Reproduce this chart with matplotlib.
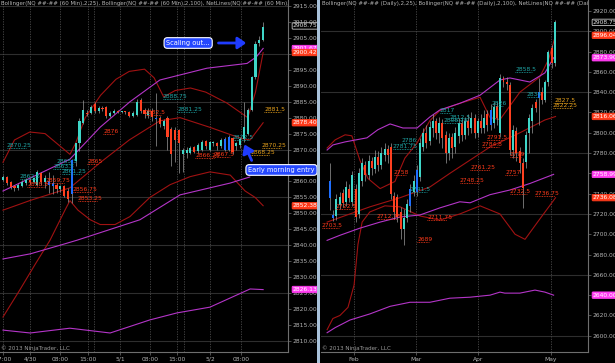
import numpy as np
import matplotlib
matplotlib.use("Agg")
import matplotlib.pyplot as plt
from matplotlib.patches import Rectangle

# ==============================================================================
# NQ 60 min / Daily  -  two NinjaTrader style candle panels
# ==============================================================================

# ---- 60 min panel (bar 0 = 17:00 the day before 4/30) ----
h_open = [2860.3, 2861.3, 2859.7, 2858.5, 2857.8, 2858.7, 2859.6, 2860.5, 2859.8, 2859.0,
          2862.5, 2859.8, 2860.0, 2859.5, 2858.8, 2857.5, 2858.5, 2857.0, 2856.0, 2866.5,
          2872.0, 2878.3, 2881.5, 2881.5, 2884.3, 2882.0, 2883.0, 2883.3, 2880.5, 2881.5,
          2882.0, 2881.8, 2881.9, 2881.7, 2880.6, 2880.8, 2885.5, 2882.5, 2880.8, 2882.2,
          2880.0, 2880.0, 2877.5, 2880.0, 2876.5, 2876.0, 2876.0, 2868.5, 2868.8, 2869.0,
          2870.8, 2869.5, 2870.0, 2872.7, 2870.0, 2872.0, 2872.0, 2871.0, 2870.0, 2869.9,
          2873.5, 2871.0, 2871.5, 2873.3, 2875.0, 2882.4, 2892.7, 2903.5, 2904.3]
h_high = [2862.0, 2861.8, 2860.0, 2859.0, 2859.5, 2860.5, 2861.0, 2861.0, 2861.5, 2863.5,
          2863.0, 2862.0, 2863.0, 2862.0, 2859.5, 2859.0, 2859.0, 2858.0, 2867.0, 2870.0,
          2880.0, 2885.5, 2882.5, 2884.0, 2885.0, 2883.8, 2883.5, 2883.8, 2882.0, 2882.7,
          2882.3, 2882.2, 2882.2, 2882.0, 2882.0, 2886.0, 2886.2, 2883.0, 2883.0, 2883.0,
          2887.8, 2880.5, 2879.5, 2880.5, 2877.0, 2877.0, 2876.5, 2870.5, 2870.8, 2871.0,
          2871.2, 2872.0, 2873.0, 2873.0, 2872.8, 2872.8, 2872.5, 2873.5, 2874.0, 2874.5,
          2874.0, 2872.5, 2873.8, 2885.0, 2883.0, 2893.0, 2904.0, 2905.5, 2910.0]
h_low = [2860.0, 2859.0, 2857.5, 2857.0, 2857.3, 2858.2, 2859.0, 2859.3, 2859.5, 2858.5,
         2859.0, 2858.0, 2856.5, 2856.0, 2856.5, 2856.8, 2855.0, 2853.5, 2853.2, 2865.0,
         2869.5, 2878.0, 2880.5, 2881.0, 2881.5, 2881.6, 2882.0, 2880.0, 2880.2, 2881.0,
         2881.5, 2881.4, 2881.3, 2880.2, 2880.3, 2880.5, 2881.5, 2880.0, 2880.0, 2879.0,
         2871.0, 2877.0, 2876.5, 2870.0, 2865.0, 2866.0, 2862.5, 2863.0, 2867.5, 2868.5,
         2868.8, 2869.0, 2869.5, 2870.3, 2869.5, 2871.0, 2870.0, 2870.5, 2869.5, 2869.5,
         2868.5, 2870.0, 2870.5, 2872.5, 2874.5, 2882.0, 2892.0, 2902.5, 2904.0]
h_close = [2861.5, 2859.5, 2858.2, 2857.8, 2858.8, 2859.8, 2860.5, 2859.8, 2861.0, 2863.0,
           2859.8, 2861.0, 2859.0, 2858.5, 2857.5, 2858.5, 2855.5, 2854.5, 2866.7, 2872.0,
           2879.0, 2882.4, 2881.0, 2883.3, 2882.0, 2883.0, 2882.8, 2880.5, 2881.5, 2882.0,
           2881.8, 2881.9, 2881.7, 2880.6, 2881.5, 2885.0, 2882.2, 2881.0, 2882.2, 2880.2,
           2879.5, 2878.0, 2879.0, 2874.0, 2868.5, 2873.0, 2872.0, 2869.9, 2870.0, 2870.5,
           2869.2, 2871.4, 2872.5, 2871.0, 2872.3, 2872.2, 2871.0, 2873.0, 2873.3, 2874.0,
           2869.3, 2872.0, 2873.3, 2877.0, 2882.4, 2892.7, 2903.0, 2904.3, 2908.5]
h_blue = [12, 13, 18, 40, 58, 59]

h_tick_pos = [0, 7.1, 14.9, 22.2, 30.6, 38.4, 45.5, 54.1, 62.2]
h_tick_lab = ["17:00", "4/30", "08:00", "15:00", "5/1", "08:00", "15:00", "5/2", "08:00"]
h_break_pos = [23.8, 47.3]

# bollinger (25) - dark red
h_bb25_up_x = [0, 3, 7, 11, 15, 17.5, 19, 21.5, 25.5, 29.5, 33, 37, 39.5, 42, 45, 49, 53, 58.5, 64, 66, 68]
h_bb25_up_y = [2866, 2873, 2875.5, 2875, 2871, 2868.5, 2872, 2880, 2887, 2892, 2894.5, 2895.2, 2892.5,
               2886.5, 2888.5, 2889.3, 2888, 2884.6, 2880, 2888, 2900.4]
h_bb25_mid_x = [0, 7, 17.5, 25.5, 33, 41, 46.3, 54, 62, 64.6, 68]
h_bb25_mid_y = [2851, 2854, 2858, 2866, 2873, 2879, 2880, 2877, 2873.6, 2873, 2878.4]
h_bb25_lo_x = [0, 4.4, 8.4, 12.3, 16.2, 17.5, 19.6, 22.8, 25.4, 29.3, 33.2, 38.4, 43.7, 48.9, 54.1, 59.4, 63.3, 65.9, 68]
h_bb25_lo_y = [2817.5, 2826, 2834, 2841.6, 2851, 2854, 2851, 2848, 2846.5, 2846.5, 2849, 2855, 2859, 2861.5,
               2863, 2862, 2857, 2855, 2852.4]
# bollinger (100) - magenta
h_bb100_up_x = [0, 17.5, 25.4, 33.2, 41, 53.3, 63.8, 66.2, 68]
h_bb100_up_y = [2857, 2867, 2877, 2885, 2891.8, 2895.5, 2897, 2899, 2901.7]
h_bb100_mid_x = [0, 7.1, 14.9, 19.4, 35.8, 46.3, 59.4, 64.5]
h_bb100_mid_y = [2835.7, 2837.3, 2840, 2841.6, 2848, 2855.8, 2859.5, 2861.4]
h_bb100_lo_x = [0, 7.1, 17.5, 28, 38.4, 45.5, 54.1, 64.6, 68]
h_bb100_lo_y = [2813.4, 2812.5, 2814, 2812.5, 2816.6, 2818.8, 2820.6, 2826.3, 2826.1]

# net line labels: (bar, price, text, kind)
h_levels = [(1.0, 2870.5, "2870.25", "t"), (26.2, 2874.9, "2876", "r"), (22.0, 2865.5, "2865", "r"),
            (14.1, 2865.5, "2865.5", "t"), (13.1, 2863.9, "2863.5", "t"), (15.4, 2862.3, "2861.25", "t"),
            (4.4, 2860.8, "2862.5", "t"), (6.3, 2858.3, "2858.5", "r"), (11.0, 2859.5, "2859.75", "r"),
            (18.3, 2856.7, "2856.75", "r"), (19.6, 2853.9, "2853.25", "r"), (41.8, 2885.8, "2888.75", "t"),
            (45.5, 2881.8, "2881.25", "t"), (37.1, 2880.8, "2882.5", "r"), (68.3, 2881.8, "2881.5", "o"),
            (67.7, 2870.5, "2870.25", "o"), (64.6, 2868.3, "2868.25", "o"), (60.1, 2873.0, "2872.5", "t"),
            (54.9, 2867.7, "2867.5", "r"), (50.2, 2867.4, "2866.25", "r")]

# right axis price flags: (price, text, kind)
h_flags = [(2908.75, "2908.75", "k"), (2901.67, "2901.67", "m"), (2900.42, "2900.42", "r"),
           (2878.40, "2878.40", "r"), (2852.38, "2852.38", "r"), (2826.13, "2826.13", "m")]

# ---- Daily panel (bar 0 = late January) ----
d_open = [2736, 2719, 2718, 2729, 2741, 2732, 2745, 2732, 2745, 2720, 2752, 2768, 2758, 2772, 2764,
          2776, 2768, 2778, 2784, 2786, 2738, 2737, 2722, 2705, 2716, 2728, 2742, 2742, 2756, 2786,
          2800, 2792, 2805, 2812, 2800, 2810, 2798, 2780, 2796, 2786, 2797, 2810, 2798, 2812, 2805,
          2815, 2800, 2812, 2805, 2818, 2808, 2810, 2826, 2800, 2854, 2850, 2847, 2783, 2802, 2782,
          2770, 2771, 2800, 2812, 2830, 2834, 2840, 2832, 2850, 2884, 2869]
d_high = [2770, 2724, 2740, 2742, 2745, 2752, 2750, 2762, 2750, 2765, 2775, 2772, 2778, 2776, 2783,
          2782, 2786, 2790, 2788, 2790, 2742, 2740, 2727, 2725, 2735, 2750, 2758, 2768, 2795, 2805,
          2808, 2812, 2818, 2815, 2816, 2814, 2802, 2800, 2800, 2806, 2815, 2814, 2816, 2818, 2820,
          2818, 2815, 2818, 2822, 2822, 2828, 2830, 2830, 2858, 2856, 2855, 2850, 2808, 2806, 2786,
          2775, 2802, 2818, 2828, 2833, 2854, 2845, 2852, 2882, 2886, 2911]
d_low = [2724, 2713, 2714, 2725, 2727, 2728, 2732, 2728, 2712, 2716, 2748, 2752, 2754, 2758, 2760,
         2762, 2764, 2772, 2770, 2735, 2715, 2712, 2695, 2689, 2712, 2722, 2738, 2738, 2752, 2782,
         2785, 2788, 2796, 2794, 2790, 2785, 2770, 2773, 2775, 2780, 2790, 2792, 2794, 2798, 2800,
         2795, 2796, 2800, 2800, 2802, 2803, 2805, 2808, 2796, 2845, 2842, 2778, 2775, 2772, 2760,
         2726, 2765, 2780, 2800, 2820, 2808, 2828, 2830, 2846, 2864, 2866]
d_close = [2752, 2716, 2735, 2737, 2731, 2747, 2736, 2758, 2717, 2760, 2770, 2758, 2772, 2765, 2776,
           2768, 2780, 2784, 2778, 2740, 2722, 2717, 2705, 2716, 2730, 2745, 2752, 2763, 2790, 2800,
           2790, 2806, 2812, 2800, 2810, 2795, 2780, 2795, 2785, 2800, 2810, 2798, 2812, 2805, 2815,
           2800, 2812, 2805, 2815, 2808, 2822, 2825, 2815, 2854, 2850, 2848, 2783, 2803, 2780, 2770,
           2746, 2798, 2815, 2824, 2824, 2840, 2832, 2850, 2880, 2869, 2908.75]
d_blue = [0, 1, 25, 27, 50, 65]

d_tick_pos = [7.5, 26.8, 46.0, 68.8]
d_tick_lab = ["Feb", "Mar", "Apr", "May"]

d_bb25_up_x = [-0.9, 1.6, 4.7, 6.8, 9.3, 11.8, 15.6, 20.2, 23.3, 27.1, 31.1, 34.2, 40.4, 46.7, 49.8, 52.9, 59.1, 65.3, 68.0, 70.2]
d_bb25_up_y = [2785, 2793, 2798, 2797, 2773, 2755, 2745, 2752, 2775, 2790, 2812, 2822, 2829, 2835, 2815, 2813, 2840, 2855, 2872, 2896]
d_bb25_mid_x = [-0.9, 12.4, 21.8, 31.1, 37.3, 49.8, 59.1, 66.9, 70.2]
d_bb25_mid_y = [2712, 2727, 2736, 2746.6, 2760, 2786, 2800, 2812.6, 2816]
d_bb25_lo_x = [-0.9, 0.9, 3.1, 5.6, 7.5, 8.7, 10.0, 12.4, 17.1, 21.8, 28.0, 34.2, 40.4, 46.7, 52.9, 57.6, 60.7, 65.3, 70.2]
d_bb25_lo_y = [2606, 2617, 2620, 2628, 2650, 2690, 2712, 2722, 2728, 2727, 2718, 2714, 2720, 2728, 2720, 2700, 2695, 2715, 2736]
d_bb100_up_x = [-0.9, 0.9, 4.7, 11.5, 14.9, 18.7, 22.7, 27.1, 31.1, 34.2, 40.4, 46.7, 52.9, 56.0, 62.2, 66.9, 69.6]
d_bb100_up_y = [2783, 2788, 2791, 2795, 2803, 2808.7, 2804.7, 2804.7, 2815.6, 2822.5, 2829, 2837, 2852, 2854, 2850, 2859, 2873.9]
d_bb100_mid_x = [-0.9, 3.1, 9.3, 15.6, 21.8, 28.0, 34.2, 40.4, 43.6, 49.8, 56.0, 62.2, 69.6]
d_bb100_mid_y = [2694, 2699, 2706, 2712, 2717, 2719, 2726, 2732, 2731, 2739, 2743.6, 2750, 2759]
d_bb100_lo_x = [-0.9, 1.6, 6.2, 12.4, 18.7, 24.9, 31.1, 37.3, 43.6, 49.8, 52.9, 54.4, 59.1, 63.8, 66.9, 69.6]
d_bb100_lo_y = [2603, 2608, 2615.5, 2621.5, 2629, 2633, 2633, 2637, 2638, 2640, 2643, 2642, 2642, 2645, 2643, 2640]

d_levels = [(57.6, 2859.9, "2858.5", "t"), (61.3, 2835.3, "2834", "t"), (70.0, 2829.4, "2827.5", "o"),
            (69.4, 2824.4, "2822.25", "o"), (34.2, 2819.5, "2817", "t"), (35.2, 2809.7, "2808.75", "t"),
            (50.4, 2826.0, "2826", "t"), (37.3, 2812.6, "2812.5", "t"), (22.4, 2790.0, "2786", "t"),
            (19.6, 2784.0, "2781.75", "t"), (19.9, 2758.4, "2758", "r"), (24.9, 2741.7, "2741.5", "t"),
            (1.6, 2725.0, "2722.5", "r"), (14.6, 2715.0, "2712.75", "r"), (30.2, 2714.0, "2711.75", "r"),
            (27.1, 2692.4, "2689", "r"), (43.6, 2763.4, "2761.25", "r"), (40.4, 2750.5, "2748.25", "r"),
            (48.8, 2793.0, "2791.5", "r"), (47.3, 2786.0, "2784.8", "r"), (56.0, 2776.0, "2779", "r"),
            (54.5, 2758.4, "2757", "r"), (56.0, 2739.7, "2732.5", "r"), (63.8, 2737.7, "2736.75", "r"),
            (-2.5, 2706.0, "2703.5", "r")]

d_flags = [(2908.75, "2908.75", "k"), (2896.04, "2896.04", "r"), (2873.90, "2873.90", "m"),
           (2816.06, "2816.06", "r"), (2758.99, "2758.99", "m"), (2736.08, "2736.08", "r"),
           (2640.00, "2640.00", "m")]

# ---- colours ----
UP = '#3fd6c8'
DOWN = '#ff4020'
BLUE = '#1f6fff'
WICK = '#9a9a9a'
BB_RED = '#a01212'
BB_MAG = '#b435c8'
LEVEL_COL = {'t': '#1fa6a6', 'r': '#ff3a1a', 'o': '#e8a21c'}
FLAG_COL = {'k': ('#000000', '#e0e0e0', '#c8c8c8'), 'm': ('#ff3cf0', '#ffffff', '#ff3cf0'),
            'r': ('#ff3a1a', '#ffffff', '#ff3a1a')}
TXT = '#b4b4b4'
FS = 4.3

W, H = 615, 363
fig = plt.figure(figsize=(W / 100, H / 100), dpi=100)
fig.patch.set_facecolor('black')


def px_axes(x0, y0, x1, y1):
    return fig.add_axes([x0 / W, 1 - y1 / H, (x1 - x0) / W, (y1 - y0) / H])


ax1 = px_axes(0, 0, 288, 352)
ax2 = px_axes(321, 0, 588, 352)

# separator between the two chart windows
fig.patches.append(Rectangle((317 / W, 0), 3 / W, 1, transform=fig.transFigure,
                             facecolor='#a9c2da', edgecolor='none'))


def draw_candles(ax, o, h, l, c, blue, width, min_body):
    for i in range(len(o)):
        col = BLUE if i in blue else (UP if c[i] >= o[i] else DOWN)
        ax.vlines(i, l[i], h[i], color=WICK, lw=0.5, zorder=3)
        body = max(abs(c[i] - o[i]), min_body)
        ax.bar(i, body, bottom=min(o[i], c[i]), width=width, color=col, lw=0, zorder=4)


def draw_levels(ax, levels, char_w):
    for x, y, s, k in levels:
        col = LEVEL_COL[k]
        ax.text(x, y, s, color=col, fontsize=FS, va='bottom', ha='left', zorder=5)
        ax.hlines(y, x, x + len(s) * char_w, color=col, lw=0.6, linestyles=(0, (1, 1)), zorder=5)


def style_axis(ax, xlim, ylim, yticks, gridy, tick_pos, tick_lab, vlines_extra, title):
    ax.set_facecolor('black')
    ax.set_xlim(*xlim)
    ax.set_ylim(*ylim)
    for s in ['top', 'left']:
        ax.spines[s].set_visible(False)
    for s in ['right', 'bottom']:
        ax.spines[s].set_color('#6e6e6e')
        ax.spines[s].set_linewidth(0.8)
    ax.yaxis.tick_right()
    ax.set_yticks(yticks)
    ax.set_yticklabels(['%.2f' % v for v in yticks])
    ax.set_xticks(tick_pos)
    ax.set_xticklabels(tick_lab)
    ax.tick_params(colors='#6e6e6e', labelcolor=TXT, labelsize=FS, length=2, width=0.5, pad=1.5)
    for g in gridy:
        ax.axhline(g, color='#2e2e2e', lw=0.8, zorder=1)
    for t in list(tick_pos) + list(vlines_extra):
        ax.axvline(t, color='#4a4a4a', lw=0.6, ls=(0, (1.5, 1.5)), zorder=1)
    ax.text(0.003, 0.997, title, transform=ax.transAxes, color=TXT, fontsize=4.0,
            va='top', ha='left', clip_on=True)
    ax.text(0.003, 0.002, u"\u00a9 2013 NinjaTrader, LLC", transform=ax.transAxes, color='#9a9a9a',
            fontsize=4.1, va='bottom', ha='left')


def draw_flags(ax, flags):
    for y, s, k in flags:
        fc, tc, ec = FLAG_COL[k]
        ax.annotate(s, xy=(1, y), xycoords=('axes fraction', 'data'), xytext=(3.5, 0),
                    textcoords='offset points', va='center', ha='left', fontsize=FS, color=tc,
                    annotation_clip=False, zorder=10,
                    bbox=dict(boxstyle='round,pad=0.12,rounding_size=0.15', fc=fc, ec=ec, lw=0.6))


# ---------------- 60 min ----------------
style_axis(ax1, (-0.78, 74.5), (2806.54, 2916.88), np.arange(2810, 2916, 5), np.arange(2810, 2916, 15),
           h_tick_pos, h_tick_lab, h_break_pos,
           "Bollinger(NQ ##-## (60 Min),2,25), Bollinger(NQ ##-## (60 Min),2,100), "
           "NetLines(NQ ##-## (60 Min),3,6,Color [Lime],Color [Lime],Color")
for xs, ys, col in [(h_bb25_up_x, h_bb25_up_y, BB_RED), (h_bb25_mid_x, h_bb25_mid_y, BB_RED),
                    (h_bb25_lo_x, h_bb25_lo_y, BB_RED), (h_bb100_up_x, h_bb100_up_y, BB_MAG),
                    (h_bb100_mid_x, h_bb100_mid_y, BB_MAG), (h_bb100_lo_x, h_bb100_lo_y, BB_MAG)]:
    ax1.plot(xs, ys, color=col, lw=0.8, zorder=2)
draw_levels(ax1, h_levels, 0.72)
draw_candles(ax1, h_open, h_high, h_low, h_close, h_blue, 0.55, 0.25)
draw_flags(ax1, h_flags)

# annotations
ax1.text(48.4, 2903.4, "Scaling out...", color='white', fontsize=4.8, ha='center', va='center', zorder=12,
         bbox=dict(boxstyle='round,pad=0.35,rounding_size=0.5', fc='#2447ff', ec='white', lw=0.8))
ax1.annotate("", xy=(64.3, 2903.4), xytext=(55.6, 2903.4), zorder=12,
             arrowprops=dict(arrowstyle='-|>,head_length=0.5,head_width=0.35', color='#1f3cff', lw=2.0))
ax1.text(72.8, 2863.6, "Early morning entry", color='white', fontsize=4.8, ha='center', va='center', zorder=12,
         clip_on=False,
         bbox=dict(boxstyle='round,pad=0.35,rounding_size=0.5', fc='#2447ff', ec='white', lw=0.8))
ax1.annotate("", xy=(62.8, 2872.4), xytext=(65.3, 2865.8), zorder=12,
             arrowprops=dict(arrowstyle='-|>,head_length=0.5,head_width=0.35', color='#1f3cff', lw=2.0))

# ---------------- Daily ----------------
style_axis(ax2, (-2.8, 80.3), (2584.0, 2930.8), np.arange(2600, 2921, 20), np.arange(2600, 2921, 60),
           d_tick_pos, d_tick_lab, [],
           "Bollinger(NQ ##-## (Daily),2,25), Bollinger(NQ ##-## (Daily),2,100), "
           "NetLines(NQ ##-## (Daily),3,6,Color [Lime],Color [Lime]")
for xs, ys, col in [(d_bb25_up_x, d_bb25_up_y, BB_RED), (d_bb25_mid_x, d_bb25_mid_y, BB_RED),
                    (d_bb25_lo_x, d_bb25_lo_y, BB_RED), (d_bb100_up_x, d_bb100_up_y, BB_MAG),
                    (d_bb100_mid_x, d_bb100_mid_y, BB_MAG), (d_bb100_lo_x, d_bb100_lo_y, BB_MAG)]:
    ax2.plot(xs, ys, color=col, lw=0.8, zorder=2)
draw_levels(ax2, d_levels, 0.9)
draw_candles(ax2, d_open, d_high, d_low, d_close, d_blue, 0.62, 0.8)
draw_flags(ax2, d_flags)

fig.savefig("out.png", dpi=100, facecolor='black')
